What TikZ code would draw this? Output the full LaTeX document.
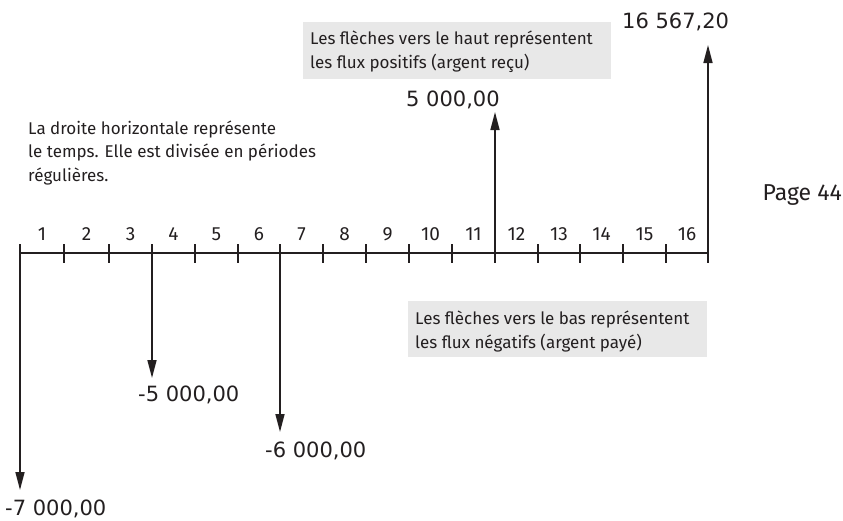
\documentclass[tikz,border=0pt]{standalone}
\usepackage{fontspec}
\setmainfont{Fira Sans}
\newfontfamily\numfont{DejaVu Sans}
\usetikzlibrary{arrows.meta,calc}
\definecolor{ink}{HTML}{231F20}
\definecolor{boxgray}{HTML}{E8E8E8}
\begin{document}
\begin{tikzpicture}[x=1pt,y=-1pt,
  axisline/.style={ink, line width=1.8pt},
  flow/.style={ink, line width=1.6pt, -{Triangle[length=18pt,width=9pt]}},
  tickmark/.style={ink, line width=1.8pt},
  ticklabel/.style={font=\fontsize{19}{19}\selectfont, text=ink, inner sep=0, anchor=base},
  amount/.style={font=\numfont\fontsize{21}{21}\selectfont, text=ink, inner sep=0, anchor=base west},
  note/.style={font=\fontsize{17}{23.5}\selectfont, text=ink, inner sep=0, align=left, anchor=base west},
  notebox/.style={fill=boxgray, draw=none, inner sep=0, anchor=north west}
]
\useasboundingbox (0,0) rectangle (843,520);
% time axis coordinates
\foreach \i/\x in {0/20,1/64,2/109,3/152,4/195,5/238,6/280,7/323,8/366,9/409,10/452,11/495,12/538,13/580,14/623,15/666,16/708}
  \coordinate (t\i) at (\x,253);
% grey boxes
\node[notebox, minimum width=308pt, minimum height=57pt] (boxup) at (303,22) {};
\node[notebox, minimum width=299pt, minimum height=56pt] (boxdown) at (408,301) {};
% axis and ticks
\draw[axisline] (t0) -- (t16);
\foreach \i in {0,...,16}
  \draw[tickmark] ([yshift=9pt]t\i) -- ([yshift=-10pt]t\i);
% period labels
\foreach \i [evaluate=\i as \a using int(\i-1)] in {1,...,16}
  \node[ticklabel] (n\i) at ($(t\a)!0.5!(t\i)+(0,-13)$) {\i};
% flow arrow ends
\coordinate (e0) at (20,490);
\coordinate (e3) at (152,378);
\coordinate (e6) at (280,432);
\coordinate (e11) at (495,112);
\coordinate (e16) at (708,45);
\draw[flow] (t0) -- (e0);
\draw[flow] (t3) -- (e3);
\draw[flow] (t6) -- (e6);
\draw[flow] (t11) -- (e11);
\draw[flow] (t16) -- (e16);
% amounts
\node[amount] (a0) at (5,515) {-7 000,00};
\node[amount] (a3) at (138,401) {-5 000,00};
\node[amount] (a6) at (265,457) {-6 000,00};
\node[amount] (a11) at (406,106) {5 000,00};
\node[amount] (a16) at (622,28) {16 567,20};
% notes (base anchor = baseline of last line)
\node[note] (left) at (28,181) {La droite horizontale représente\\le temps. Elle est divisée en périodes\\régulières.};
\node[note] (upnote) at (310,68) {Les flèches vers le haut représentent\\les flux positifs (argent reçu)};
\node[note] (downnote) at (415,348) {Les flèches vers le bas représentent\\les flux négatifs (argent payé)};
\node[font=\fontsize{23}{23}\selectfont, text=ink, inner sep=0, anchor=base east] (page) at (842,200) {Page 44};
\end{tikzpicture}
\end{document}
